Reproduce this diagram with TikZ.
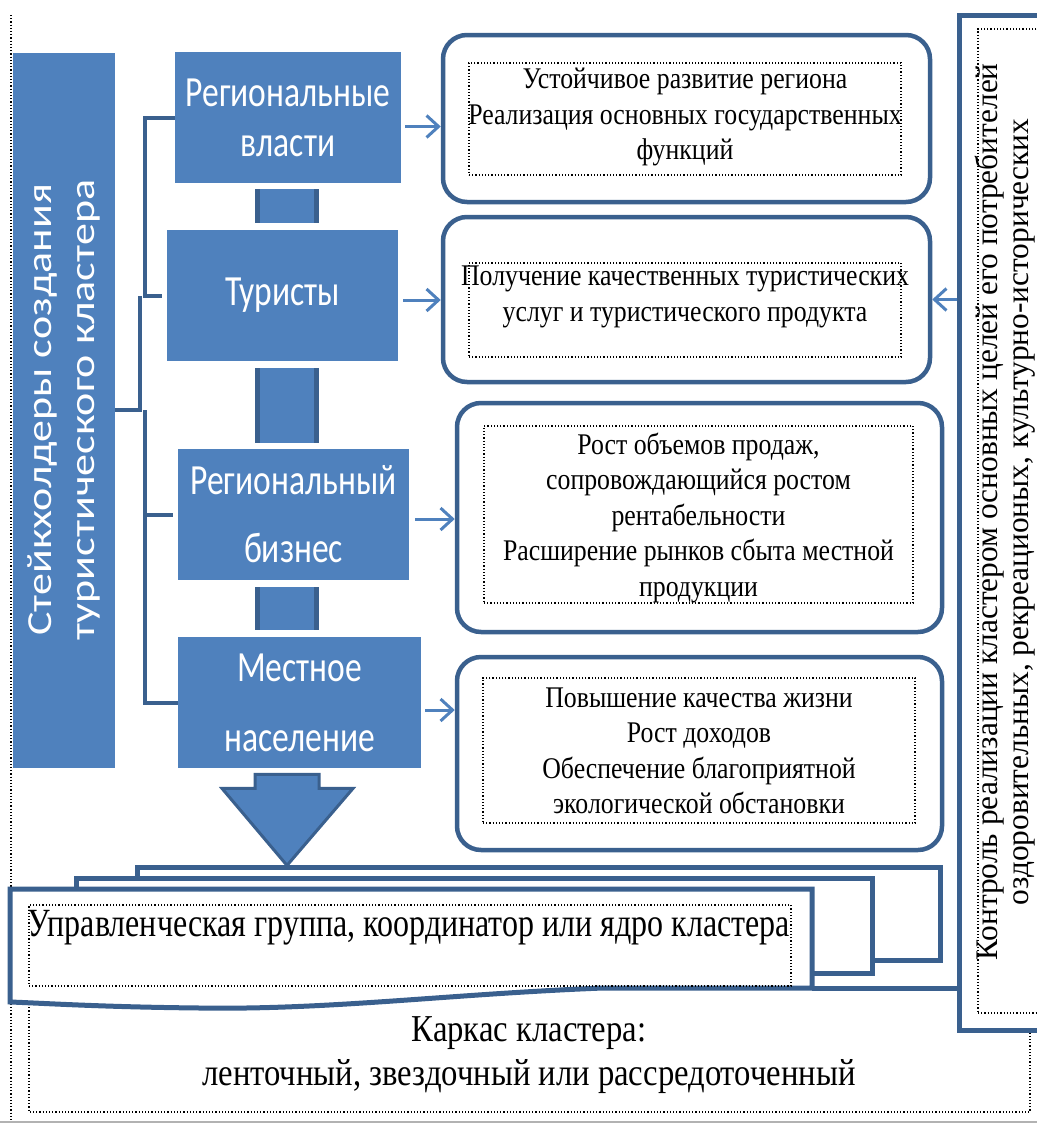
\documentclass[tikz,border=0pt]{standalone}
\usepackage{fontspec}
\setmainfont{Liberation Serif}
\newfontfamily\narrowserif[FakeStretch=0.86]{Liberation Serif}
\newfontfamily\corefont[FakeStretch=0.8]{Liberation Serif}
\newfontfamily\boxsans[FakeStretch=0.78]{Carlito}
\newfontfamily\sidesans{Carlito}
\usetikzlibrary{arrows.meta,calc}
\definecolor{boxblue}{RGB}{79,129,189}
\definecolor{edgeblue}{RGB}{58,96,142}

\begin{document}
\begin{tikzpicture}[x=0.5pt,y=-0.5pt,
  actor/.style={rectangle,fill=boxblue,text=white,inner sep=0pt,minimum height=65.5pt,
    align=center,font=\boxsans\fontsize{21.5}{25}\selectfont},
  barlink/.style={rectangle,fill=boxblue,inner sep=0pt,minimum width=32pt,
    path picture={\fill[edgeblue] (path picture bounding box.north west) rectangle ([xshift=2.5pt]path picture bounding box.south west);
      \fill[edgeblue] (path picture bounding box.north east) rectangle ([xshift=-2.5pt]path picture bounding box.south east);}},
  goal/.style={rectangle,rounded corners=12pt,draw=edgeblue,line width=2.25pt,fill=white,inner sep=0pt},
  dotbox/.style={draw,densely dotted,line width=0.6pt,inner sep=0pt},
  goaltext/.style={align=center,inner sep=0pt,font=\narrowserif\fontsize{15}{17.75}\selectfont},
  arr/.style={draw=boxblue,line width=1.5pt,-{Straight Barb[length=6pt,width=11pt]}},
  brk/.style={draw=edgeblue,line width=2pt},
  sheet/.style={draw=edgeblue,line width=2.5pt,fill=white}]
\useasboundingbox (0,0) rectangle (1037,1124);
\clip (0,0) rectangle (1037,1124);

\draw[densely dotted,line width=0.6pt] (11,15) -- (11,1120);
\draw[gray!60,line width=1pt] (0,1122) -- (1037,1122);

% stakeholders
\node[actor,minimum width=51pt,minimum height=357.5pt] (stake) at (64,410) {};
\node[xscale=0.8,rotate=90,align=center,inner sep=0pt,text=white,
  font=\sidesans\fontsize{22}{27}\selectfont] (stakelbl) at (stake.center) {Стейкхолдеры создания\\туристического кластера};
\node[actor,minimum width=113pt] (vlast) at (288,117.5) {Региональные\\власти};
\node[actor,minimum width=115.5pt] (tur) at (282.5,295.5) {Туристы};
\node[actor,minimum width=115.5pt] (biz) at (293.5,514.5) {Региональный\\[9pt]бизнес};
\node[actor,minimum width=121.5pt] (nas) at (299.5,702.5) {Местное\\[10pt]население};

\node[barlink,minimum height=17pt] (bar1) at (287,206) {};
\node[barlink,minimum height=37.5pt] (bar2) at (287,405.5) {};
\node[barlink,minimum height=21.5pt] (bar3) at (287,608.5) {};

\draw[brk] (vlast.west) -- ++(-30,0) coordinate (k1) -- (k1 |- tur.west) -- ([xshift=-2.5pt]tur.west);
\draw[brk] (stake.east) -- ++(25,0) coordinate (k2) -- (k2 |- tur.west);
\draw[brk] (nas.west) -- ++(-33,0) coordinate (k3) -- (k3 |- stake.east);
\draw[brk] (k3 |- biz.west) -- ([xshift=-2.5pt]biz.west);

% goals
\node[goal,minimum width=243.5pt,minimum height=83.5pt] (g1) at (686.5,118.5) {};
\node[goal,minimum width=243.5pt,minimum height=82.5pt] (g2) at (686.5,299.5) {};
\node[goal,minimum width=242.5pt,minimum height=114.5pt] (g3) at (699.5,517.5) {};
\node[goal,minimum width=242.5pt,minimum height=96.5pt] (g4) at (699.5,753.5) {};

\node[dotbox,minimum width=216pt,minimum height=56pt] (d1) at (685,119) {};
\node[dotbox,minimum width=216pt,minimum height=47pt] (d2) at (685,310) {};
\node[dotbox,minimum width=214.5pt,minimum height=88.5pt] (d3) at (698.5,514.5) {};
\node[dotbox,minimum width=216pt,minimum height=72.5pt] (d4) at (699,750.5) {};

\node[goaltext] (t1) at (685,117) {Устойчивое развитие региона\\Реализация основных государственных\\функций};
\node[goaltext] (t2) at (685,297) {Получение качественных туристических\\услуг и туристического продукта};
\node[goaltext] (t3) at (698.5,517.5) {Рост объемов продаж,\\сопровождающийся ростом\\рентабельности\\Расширение рынков сбыта местной\\продукции};
\node[goaltext] (t4) at (699,751) {Повышение качества жизни\\Рост доходов\\Обеспечение благоприятной\\экологической обстановки};

\path ([yshift=-4.5pt]vlast.east) coordinate (a1)
      ([yshift=-2.25pt]tur.east) coordinate (a2)
      ([yshift=-2.25pt]biz.east) coordinate (a3)
      ([yshift=-3.75pt]nas.east) coordinate (a4);
\draw[arr] ([xshift=2pt]a1) -- (a1 -| g1.west);
\draw[arr] ([xshift=2.5pt]a2) -- (a2 -| g2.west);
\draw[arr] ([xshift=3pt]a3) -- (a3 -| g3.west);
\draw[arr] ([xshift=2pt]a4) -- (a4 -| g4.west);

% control panel
\node[draw=edgeblue,line width=2.5pt,fill=white,inner sep=0pt,minimum width=60pt,minimum height=507.5pt] (panel) at (1019,522.5) {};
\node[dotbox,minimum width=51pt,minimum height=492pt] (ctrlbox) at (1029,521) {};
\node[rotate=90,align=center,inner sep=0pt,font=\fontsize{15.7}{15.5}\selectfont] (ctrl) at (1005,512)
  {Контроль реализации кластером основных целей его потребителей\\оздоровительных, рекреационых, культурно-исторических};
\draw[arr] (panel.west |- g2.east) -- (g2.east);

% frame of the cluster
\draw[dotbox] (29,1004) -- (29,1112) -- (1030,1112) -- (1030,1031);
\node[align=center,inner sep=0pt,font=\narrowserif\fontsize{19}{22}\selectfont] (karkas) at (529,1055)
  {Каркас кластера:\\ленточный, звездочный или рассредоточенный};

\draw[fill=boxblue,draw=edgeblue,line width=1.5pt] (nas.south -| bar3) ++(-32,6) -- ++(64,0) -- ++(0,14)
  -- ++(34,0) -- ++(-66,77) -- ++(-65,-77) -- ++(33,0) -- cycle;
\draw[sheet] (137,867) rectangle (940,960);
\draw[sheet] (76,878) rectangle (872,973);
\draw[sheet] (10,889) -- (812,889) -- (812,988) coordinate (wavebr) -- (603,988)
  .. controls (450,994) and (330,1010) .. (200,1008) .. controls (100,1007) and (40,1003) .. (10,1002) -- cycle;
\draw[sheet] (wavebr) -- (wavebr -| panel.west);
\node[dotbox,minimum width=381pt,minimum height=40.5pt] (corebox) at (410,945.5) {};
\node[inner sep=0pt,font=\corefont\fontsize{20}{22}\selectfont] (core) at (409,928)
  {Управленческая группа, координатор или ядро кластера};
\end{tikzpicture}
\end{document}
